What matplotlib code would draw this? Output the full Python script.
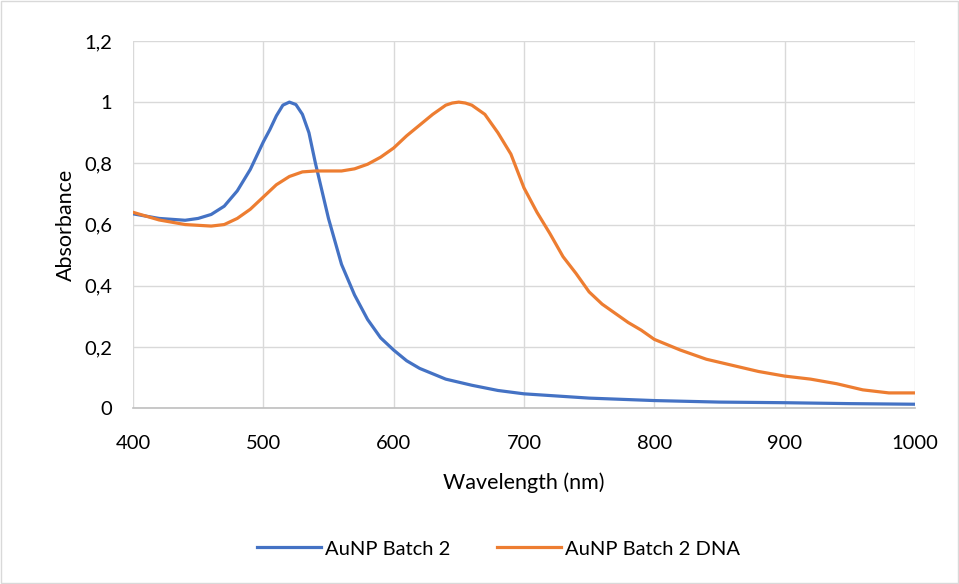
import matplotlib
matplotlib.use("Agg")
import matplotlib.pyplot as plt
from matplotlib.ticker import FuncFormatter

wl = [400, 420, 440, 450, 460, 470, 480, 490, 500, 505, 510, 515, 520, 525,
      530, 535, 540, 545, 550, 560, 570, 580, 590, 600, 610, 620, 640, 660,
      680, 700, 750, 800, 850, 900, 950, 1000]
batch2 = [0.635, 0.62, 0.614, 0.62, 0.633, 0.66, 0.71, 0.78, 0.87, 0.91,
          0.955, 0.99, 1.0, 0.992, 0.96, 0.90, 0.80, 0.71, 0.62, 0.47, 0.37,
          0.29, 0.23, 0.19, 0.155, 0.13, 0.095, 0.075, 0.058, 0.047, 0.033,
          0.025, 0.02, 0.018, 0.015, 0.013]

wl_dna = [400, 420, 440, 460, 470, 480, 490, 500, 510, 520, 530, 540, 560,
          570, 580, 590, 600, 610, 620, 630, 640, 645, 650, 655, 660, 670,
          680, 690, 700, 710, 720, 730, 740, 750, 760, 770, 780, 790, 800,
          820, 840, 860, 880, 900, 920, 940, 960, 980, 1000]
batch2_dna = [0.64, 0.615, 0.60, 0.595, 0.60, 0.62, 0.65, 0.69, 0.73, 0.757,
              0.772, 0.775, 0.775, 0.782, 0.797, 0.82, 0.85, 0.89, 0.925,
              0.96, 0.99, 0.997, 1.0, 0.997, 0.99, 0.96, 0.90, 0.83, 0.72,
              0.64, 0.57, 0.495, 0.44, 0.38, 0.34, 0.31, 0.28, 0.255, 0.225,
              0.19, 0.16, 0.14, 0.12, 0.105, 0.095, 0.08, 0.06, 0.05, 0.05]

plt.rcParams["font.family"] = ["Lato", "DejaVu Sans"]

fig = plt.figure(figsize=(9.59, 5.84), dpi=100)
ax = fig.add_axes([0.1387, 0.301, 0.8153, 0.629])

ax.plot(wl, batch2, color="#4472C4", lw=2.3, label="AuNP Batch 2")
ax.plot(wl_dna, batch2_dna, color="#ED7D31", lw=2.3, label="AuNP Batch 2 DNA")

ax.set_xlim(400, 1000)
ax.set_ylim(0, 1.2)
ax.set_xticks(range(400, 1001, 100))
ax.set_yticks([0, 0.2, 0.4, 0.6, 0.8, 1.0, 1.2])
ax.yaxis.set_major_formatter(FuncFormatter(
    lambda v, p: "0" if v == 0 else ("1" if abs(v - 1) < 1e-9 else f"{v:.1f}".replace(".", ","))))
ax.grid(True, color="#d9d9d9", lw=1.0)
ax.set_axisbelow(True)
for s in ["top", "right", "left"]:
    ax.spines[s].set_visible(False)
ax.spines["bottom"].set_color("#bfbfbf")
ax.spines["bottom"].set_linewidth(1.2)
ax.tick_params(length=0, labelsize=14.5, colors="#000000")
ax.tick_params(axis="x", pad=19)
ax.tick_params(axis="y", pad=15)
ax.set_xlabel("Wavelength (nm)", fontsize=15.5, labelpad=15)
ax.set_ylabel("Absorbance", fontsize=15.5, labelpad=6)

fig.legend(loc="center", bbox_to_anchor=(0.52, 0.06), ncol=2, frameon=False,
           fontsize=14.5, handlelength=3.2, columnspacing=2.3, handletextpad=0.2)

fig.patches.append(plt.Rectangle((0.001, 0.002), 0.998, 0.996, fill=False,
                                 edgecolor="#d9d9d9", lw=1.0,
                                 transform=fig.transFigure))

fig.savefig("out.png", dpi=100)
